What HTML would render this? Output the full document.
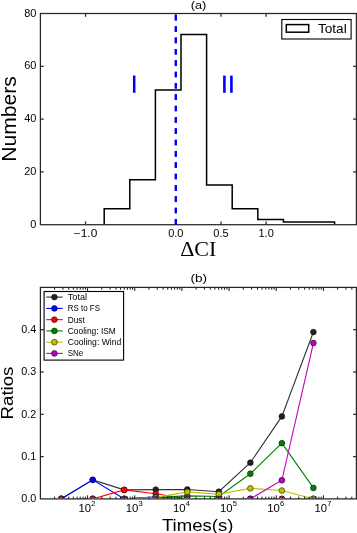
<!DOCTYPE html>
<html><head><meta charset="utf-8"><style>
html,body{margin:0;padding:0;background:#fff;width:357px;height:533px;overflow:hidden;}
svg{display:block;font-family:"Liberation Sans",sans-serif;will-change:transform;}
</style></head><body>
<svg width="357" height="533" viewBox="0 0 357 533"><polyline fill="none" stroke="#000" stroke-width="1.5" stroke-linejoin="miter" points="104.20,224.70 104.20,208.86 129.80,208.86 129.80,179.82 155.40,179.82 155.40,90.06 181.00,90.06 181.00,34.62 206.60,34.62 206.60,185.10 232.20,185.10 232.20,208.86 257.80,208.86 257.80,219.42 283.40,219.42 283.40,222.06 309.00,222.06 309.00,222.06 334.60,222.06 334.60,224.70"/>
<line x1="175.80" y1="224.70" x2="175.80" y2="13.50" stroke="#0000ff" stroke-width="2.1" stroke-dasharray="5.65 5.69"/>
<rect x="40.40" y="13.50" width="316.00" height="211.20" fill="none" stroke="#262626" stroke-width="1.25"/>
<line x1="40.40" y1="171.90" x2="43.70" y2="171.90" stroke="#262626" stroke-width="1.25"/>
<line x1="356.40" y1="171.90" x2="353.10" y2="171.90" stroke="#262626" stroke-width="1.25"/>
<line x1="40.40" y1="119.10" x2="43.70" y2="119.10" stroke="#262626" stroke-width="1.25"/>
<line x1="356.40" y1="119.10" x2="353.10" y2="119.10" stroke="#262626" stroke-width="1.25"/>
<line x1="40.40" y1="66.30" x2="43.70" y2="66.30" stroke="#262626" stroke-width="1.25"/>
<line x1="356.40" y1="66.30" x2="353.10" y2="66.30" stroke="#262626" stroke-width="1.25"/>
<line x1="85.54" y1="224.70" x2="85.54" y2="221.40" stroke="#262626" stroke-width="1.25"/>
<line x1="85.54" y1="13.50" x2="85.54" y2="16.80" stroke="#262626" stroke-width="1.25"/>
<line x1="175.83" y1="224.70" x2="175.83" y2="221.40" stroke="#262626" stroke-width="1.25"/>
<line x1="175.83" y1="13.50" x2="175.83" y2="16.80" stroke="#262626" stroke-width="1.25"/>
<line x1="220.97" y1="224.70" x2="220.97" y2="221.40" stroke="#262626" stroke-width="1.25"/>
<line x1="220.97" y1="13.50" x2="220.97" y2="16.80" stroke="#262626" stroke-width="1.25"/>
<line x1="266.11" y1="224.70" x2="266.11" y2="221.40" stroke="#262626" stroke-width="1.25"/>
<line x1="266.11" y1="13.50" x2="266.11" y2="16.80" stroke="#262626" stroke-width="1.25"/>
<line x1="175.80" y1="224.70" x2="175.80" y2="13.50" stroke="#0000ff" stroke-width="2.1" stroke-dasharray="5.65 5.69"/>
<text x="36.40" y="227.70" font-size="10.00" text-anchor="end" textLength="6.10" lengthAdjust="spacingAndGlyphs" font-family="Liberation Sans, sans-serif" >0</text>
<text x="36.40" y="174.90" font-size="10.00" text-anchor="end" textLength="12.20" lengthAdjust="spacingAndGlyphs" font-family="Liberation Sans, sans-serif" >20</text>
<text x="36.40" y="122.10" font-size="10.00" text-anchor="end" textLength="12.20" lengthAdjust="spacingAndGlyphs" font-family="Liberation Sans, sans-serif" >40</text>
<text x="36.40" y="69.30" font-size="10.00" text-anchor="end" textLength="12.20" lengthAdjust="spacingAndGlyphs" font-family="Liberation Sans, sans-serif" >60</text>
<text x="36.40" y="16.50" font-size="10.00" text-anchor="end" textLength="12.20" lengthAdjust="spacingAndGlyphs" font-family="Liberation Sans, sans-serif" >80</text>
<text x="85.54" y="236.60" font-size="10.00" text-anchor="middle" textLength="23.50" lengthAdjust="spacingAndGlyphs" font-family="Liberation Sans, sans-serif" >−1.0</text>
<text x="175.83" y="236.60" font-size="10.00" text-anchor="middle" textLength="15.30" lengthAdjust="spacingAndGlyphs" font-family="Liberation Sans, sans-serif" >0.0</text>
<text x="220.97" y="236.60" font-size="10.00" text-anchor="middle" textLength="15.30" lengthAdjust="spacingAndGlyphs" font-family="Liberation Sans, sans-serif" >0.5</text>
<text x="266.11" y="236.60" font-size="10.00" text-anchor="middle" textLength="15.30" lengthAdjust="spacingAndGlyphs" font-family="Liberation Sans, sans-serif" >1.0</text>
<text x="198.50" y="8.70" font-size="10.80" text-anchor="middle" textLength="15.60" lengthAdjust="spacingAndGlyphs" font-family="Liberation Sans, sans-serif" >(a)</text>
<text x="198.3" y="256.2" font-size="20.2" text-anchor="middle" textLength="36.2" lengthAdjust="spacingAndGlyphs" font-family="Liberation Serif, serif">ΔCI</text>
<text x="0" y="0" font-size="19.4" text-anchor="middle" textLength="85.6" lengthAdjust="spacingAndGlyphs" font-family="Liberation Sans, sans-serif" transform="translate(16.0,118.9) rotate(-90)">Numbers</text>
<rect x="132.95" y="75.5" width="2.5" height="17.3" fill="#0000ff"/>
<rect x="223.1" y="75.6" width="2.6" height="17.2" fill="#0000ff"/>
<rect x="230.1" y="75.6" width="2.6" height="17.2" fill="#0000ff"/>
<rect x="281.8" y="19.5" width="69.3" height="19.5" fill="#fff" stroke="#000" stroke-width="1.1"/>
<rect x="286.3" y="24.6" width="22.4" height="7.6" fill="none" stroke="#000" stroke-width="1.5"/>
<text x="317.90" y="32.75" font-size="12.40" text-anchor="start" textLength="28.80" lengthAdjust="spacingAndGlyphs" font-family="Liberation Sans, sans-serif" >Total</text>
<defs><clipPath id="c2"><rect x="40.40" y="287.40" width="316.00" height="210.60"/></clipPath></defs>
<g clip-path="url(#c2)">
<polyline fill="none" stroke="#333" stroke-width="1.1" points="61.20,498.90 92.72,479.86 124.25,489.89 155.77,489.59 187.30,489.47 218.82,491.71 250.35,462.69 281.88,416.41 313.40,332.03"/>
<circle cx="61.20" cy="498.90" r="2.9" fill="#222" stroke="#000" stroke-width="0.5"/>
<circle cx="92.72" cy="479.86" r="2.9" fill="#222" stroke="#000" stroke-width="0.5"/>
<circle cx="124.25" cy="489.89" r="2.9" fill="#222" stroke="#000" stroke-width="0.5"/>
<circle cx="155.77" cy="489.59" r="2.9" fill="#222" stroke="#000" stroke-width="0.5"/>
<circle cx="187.30" cy="489.47" r="2.9" fill="#222" stroke="#000" stroke-width="0.5"/>
<circle cx="218.82" cy="491.71" r="2.9" fill="#222" stroke="#000" stroke-width="0.5"/>
<circle cx="250.35" cy="462.69" r="2.9" fill="#222" stroke="#000" stroke-width="0.5"/>
<circle cx="281.88" cy="416.41" r="2.9" fill="#222" stroke="#000" stroke-width="0.5"/>
<circle cx="313.40" cy="332.03" r="2.9" fill="#222" stroke="#000" stroke-width="0.5"/>
<polyline fill="none" stroke="#0000ff" stroke-width="1.1" points="61.20,498.90 92.72,479.86 124.25,498.90 155.77,496.78 187.30,498.90 218.82,498.90 250.35,498.90 281.88,498.90 313.40,498.90"/>
<circle cx="61.20" cy="498.90" r="2.9" fill="#0000ff" stroke="#000" stroke-width="0.5"/>
<circle cx="92.72" cy="479.86" r="2.9" fill="#0000ff" stroke="#000" stroke-width="0.5"/>
<circle cx="124.25" cy="498.90" r="2.9" fill="#0000ff" stroke="#000" stroke-width="0.5"/>
<circle cx="155.77" cy="496.78" r="2.9" fill="#0000ff" stroke="#000" stroke-width="0.5"/>
<circle cx="187.30" cy="498.90" r="2.9" fill="#0000ff" stroke="#000" stroke-width="0.5"/>
<circle cx="218.82" cy="498.90" r="2.9" fill="#0000ff" stroke="#000" stroke-width="0.5"/>
<circle cx="250.35" cy="498.90" r="2.9" fill="#0000ff" stroke="#000" stroke-width="0.5"/>
<circle cx="281.88" cy="498.90" r="2.9" fill="#0000ff" stroke="#000" stroke-width="0.5"/>
<circle cx="313.40" cy="498.90" r="2.9" fill="#0000ff" stroke="#000" stroke-width="0.5"/>
<polyline fill="none" stroke="#ff0000" stroke-width="1.1" points="61.20,498.90 92.72,498.90 124.25,489.89 155.77,493.70 187.30,498.90 218.82,498.90 250.35,498.90 281.88,498.90 313.40,498.90"/>
<circle cx="61.20" cy="498.90" r="2.9" fill="#ff0000" stroke="#000" stroke-width="0.5"/>
<circle cx="92.72" cy="498.90" r="2.9" fill="#ff0000" stroke="#000" stroke-width="0.5"/>
<circle cx="124.25" cy="489.89" r="2.9" fill="#ff0000" stroke="#000" stroke-width="0.5"/>
<circle cx="155.77" cy="493.70" r="2.9" fill="#ff0000" stroke="#000" stroke-width="0.5"/>
<circle cx="187.30" cy="498.90" r="2.9" fill="#ff0000" stroke="#000" stroke-width="0.5"/>
<circle cx="218.82" cy="498.90" r="2.9" fill="#ff0000" stroke="#000" stroke-width="0.5"/>
<circle cx="250.35" cy="498.90" r="2.9" fill="#ff0000" stroke="#000" stroke-width="0.5"/>
<circle cx="281.88" cy="498.90" r="2.9" fill="#ff0000" stroke="#000" stroke-width="0.5"/>
<circle cx="313.40" cy="498.90" r="2.9" fill="#ff0000" stroke="#000" stroke-width="0.5"/>
<polyline fill="none" stroke="#008000" stroke-width="1.1" points="61.20,498.90 92.72,498.90 124.25,498.90 155.77,497.21 187.30,495.85 218.82,496.45 250.35,473.73 281.88,443.19 313.40,487.90"/>
<circle cx="61.20" cy="498.90" r="2.9" fill="#008000" stroke="#000" stroke-width="0.5"/>
<circle cx="92.72" cy="498.90" r="2.9" fill="#008000" stroke="#000" stroke-width="0.5"/>
<circle cx="124.25" cy="498.90" r="2.9" fill="#008000" stroke="#000" stroke-width="0.5"/>
<circle cx="155.77" cy="497.21" r="2.9" fill="#008000" stroke="#000" stroke-width="0.5"/>
<circle cx="187.30" cy="495.85" r="2.9" fill="#008000" stroke="#000" stroke-width="0.5"/>
<circle cx="218.82" cy="496.45" r="2.9" fill="#008000" stroke="#000" stroke-width="0.5"/>
<circle cx="250.35" cy="473.73" r="2.9" fill="#008000" stroke="#000" stroke-width="0.5"/>
<circle cx="281.88" cy="443.19" r="2.9" fill="#008000" stroke="#000" stroke-width="0.5"/>
<circle cx="313.40" cy="487.90" r="2.9" fill="#008000" stroke="#000" stroke-width="0.5"/>
<polyline fill="none" stroke="#bfbf00" stroke-width="1.1" points="61.20,498.90 92.72,498.90 124.25,498.90 155.77,497.63 187.30,491.92 218.82,494.25 250.35,488.37 281.88,490.57 313.40,498.90"/>
<circle cx="61.20" cy="498.90" r="2.9" fill="#bfbf00" stroke="#000" stroke-width="0.5"/>
<circle cx="92.72" cy="498.90" r="2.9" fill="#bfbf00" stroke="#000" stroke-width="0.5"/>
<circle cx="124.25" cy="498.90" r="2.9" fill="#bfbf00" stroke="#000" stroke-width="0.5"/>
<circle cx="155.77" cy="497.63" r="2.9" fill="#bfbf00" stroke="#000" stroke-width="0.5"/>
<circle cx="187.30" cy="491.92" r="2.9" fill="#bfbf00" stroke="#000" stroke-width="0.5"/>
<circle cx="218.82" cy="494.25" r="2.9" fill="#bfbf00" stroke="#000" stroke-width="0.5"/>
<circle cx="250.35" cy="488.37" r="2.9" fill="#bfbf00" stroke="#000" stroke-width="0.5"/>
<circle cx="281.88" cy="490.57" r="2.9" fill="#bfbf00" stroke="#000" stroke-width="0.5"/>
<circle cx="313.40" cy="498.90" r="2.9" fill="#bfbf00" stroke="#000" stroke-width="0.5"/>
<polyline fill="none" stroke="#bf00bf" stroke-width="1.1" points="61.20,498.90 92.72,498.90 124.25,498.90 155.77,498.90 187.30,498.90 218.82,498.90 250.35,498.90 281.88,480.25 313.40,343.02"/>
<circle cx="61.20" cy="498.90" r="2.9" fill="#bf00bf" stroke="#000" stroke-width="0.5"/>
<circle cx="92.72" cy="498.90" r="2.9" fill="#bf00bf" stroke="#000" stroke-width="0.5"/>
<circle cx="124.25" cy="498.90" r="2.9" fill="#bf00bf" stroke="#000" stroke-width="0.5"/>
<circle cx="155.77" cy="498.90" r="2.9" fill="#bf00bf" stroke="#000" stroke-width="0.5"/>
<circle cx="187.30" cy="498.90" r="2.9" fill="#bf00bf" stroke="#000" stroke-width="0.5"/>
<circle cx="218.82" cy="498.90" r="2.9" fill="#bf00bf" stroke="#000" stroke-width="0.5"/>
<circle cx="250.35" cy="498.90" r="2.9" fill="#bf00bf" stroke="#000" stroke-width="0.5"/>
<circle cx="281.88" cy="480.25" r="2.9" fill="#bf00bf" stroke="#000" stroke-width="0.5"/>
<circle cx="313.40" cy="343.02" r="2.9" fill="#bf00bf" stroke="#000" stroke-width="0.5"/>
</g>
<rect x="40.40" y="287.40" width="316.00" height="211.50" fill="none" stroke="#262626" stroke-width="1.25"/>
<line x1="40.40" y1="456.60" x2="43.70" y2="456.60" stroke="#262626" stroke-width="1.25"/>
<line x1="356.40" y1="456.60" x2="353.10" y2="456.60" stroke="#262626" stroke-width="1.25"/>
<line x1="40.40" y1="414.30" x2="43.70" y2="414.30" stroke="#262626" stroke-width="1.25"/>
<line x1="356.40" y1="414.30" x2="353.10" y2="414.30" stroke="#262626" stroke-width="1.25"/>
<line x1="40.40" y1="372.00" x2="43.70" y2="372.00" stroke="#262626" stroke-width="1.25"/>
<line x1="356.40" y1="372.00" x2="353.10" y2="372.00" stroke="#262626" stroke-width="1.25"/>
<line x1="40.40" y1="329.70" x2="43.70" y2="329.70" stroke="#262626" stroke-width="1.25"/>
<line x1="356.40" y1="329.70" x2="353.10" y2="329.70" stroke="#262626" stroke-width="1.25"/>
<line x1="54.60" y1="498.90" x2="54.60" y2="496.60" stroke="#1a1a1a" stroke-width="1.0"/>
<line x1="54.60" y1="287.40" x2="54.60" y2="289.70" stroke="#1a1a1a" stroke-width="1.0"/>
<line x1="62.91" y1="498.90" x2="62.91" y2="496.60" stroke="#1a1a1a" stroke-width="1.0"/>
<line x1="62.91" y1="287.40" x2="62.91" y2="289.70" stroke="#1a1a1a" stroke-width="1.0"/>
<line x1="68.80" y1="498.90" x2="68.80" y2="496.60" stroke="#1a1a1a" stroke-width="1.0"/>
<line x1="68.80" y1="287.40" x2="68.80" y2="289.70" stroke="#1a1a1a" stroke-width="1.0"/>
<line x1="73.37" y1="498.90" x2="73.37" y2="496.60" stroke="#1a1a1a" stroke-width="1.0"/>
<line x1="73.37" y1="287.40" x2="73.37" y2="289.70" stroke="#1a1a1a" stroke-width="1.0"/>
<line x1="77.11" y1="498.90" x2="77.11" y2="496.60" stroke="#1a1a1a" stroke-width="1.0"/>
<line x1="77.11" y1="287.40" x2="77.11" y2="289.70" stroke="#1a1a1a" stroke-width="1.0"/>
<line x1="80.26" y1="498.90" x2="80.26" y2="496.60" stroke="#1a1a1a" stroke-width="1.0"/>
<line x1="80.26" y1="287.40" x2="80.26" y2="289.70" stroke="#1a1a1a" stroke-width="1.0"/>
<line x1="83.00" y1="498.90" x2="83.00" y2="496.60" stroke="#1a1a1a" stroke-width="1.0"/>
<line x1="83.00" y1="287.40" x2="83.00" y2="289.70" stroke="#1a1a1a" stroke-width="1.0"/>
<line x1="85.41" y1="498.90" x2="85.41" y2="496.60" stroke="#1a1a1a" stroke-width="1.0"/>
<line x1="85.41" y1="287.40" x2="85.41" y2="289.70" stroke="#1a1a1a" stroke-width="1.0"/>
<line x1="87.57" y1="498.90" x2="87.57" y2="495.30" stroke="#1a1a1a" stroke-width="1.0"/>
<line x1="87.57" y1="287.40" x2="87.57" y2="291.00" stroke="#1a1a1a" stroke-width="1.0"/>
<line x1="101.77" y1="498.90" x2="101.77" y2="496.60" stroke="#1a1a1a" stroke-width="1.0"/>
<line x1="101.77" y1="287.40" x2="101.77" y2="289.70" stroke="#1a1a1a" stroke-width="1.0"/>
<line x1="110.08" y1="498.90" x2="110.08" y2="496.60" stroke="#1a1a1a" stroke-width="1.0"/>
<line x1="110.08" y1="287.40" x2="110.08" y2="289.70" stroke="#1a1a1a" stroke-width="1.0"/>
<line x1="115.97" y1="498.90" x2="115.97" y2="496.60" stroke="#1a1a1a" stroke-width="1.0"/>
<line x1="115.97" y1="287.40" x2="115.97" y2="289.70" stroke="#1a1a1a" stroke-width="1.0"/>
<line x1="120.54" y1="498.90" x2="120.54" y2="496.60" stroke="#1a1a1a" stroke-width="1.0"/>
<line x1="120.54" y1="287.40" x2="120.54" y2="289.70" stroke="#1a1a1a" stroke-width="1.0"/>
<line x1="124.28" y1="498.90" x2="124.28" y2="496.60" stroke="#1a1a1a" stroke-width="1.0"/>
<line x1="124.28" y1="287.40" x2="124.28" y2="289.70" stroke="#1a1a1a" stroke-width="1.0"/>
<line x1="127.44" y1="498.90" x2="127.44" y2="496.60" stroke="#1a1a1a" stroke-width="1.0"/>
<line x1="127.44" y1="287.40" x2="127.44" y2="289.70" stroke="#1a1a1a" stroke-width="1.0"/>
<line x1="130.17" y1="498.90" x2="130.17" y2="496.60" stroke="#1a1a1a" stroke-width="1.0"/>
<line x1="130.17" y1="287.40" x2="130.17" y2="289.70" stroke="#1a1a1a" stroke-width="1.0"/>
<line x1="132.58" y1="498.90" x2="132.58" y2="496.60" stroke="#1a1a1a" stroke-width="1.0"/>
<line x1="132.58" y1="287.40" x2="132.58" y2="289.70" stroke="#1a1a1a" stroke-width="1.0"/>
<line x1="134.74" y1="498.90" x2="134.74" y2="495.30" stroke="#1a1a1a" stroke-width="1.0"/>
<line x1="134.74" y1="287.40" x2="134.74" y2="291.00" stroke="#1a1a1a" stroke-width="1.0"/>
<line x1="148.94" y1="498.90" x2="148.94" y2="496.60" stroke="#1a1a1a" stroke-width="1.0"/>
<line x1="148.94" y1="287.40" x2="148.94" y2="289.70" stroke="#1a1a1a" stroke-width="1.0"/>
<line x1="157.25" y1="498.90" x2="157.25" y2="496.60" stroke="#1a1a1a" stroke-width="1.0"/>
<line x1="157.25" y1="287.40" x2="157.25" y2="289.70" stroke="#1a1a1a" stroke-width="1.0"/>
<line x1="163.14" y1="498.90" x2="163.14" y2="496.60" stroke="#1a1a1a" stroke-width="1.0"/>
<line x1="163.14" y1="287.40" x2="163.14" y2="289.70" stroke="#1a1a1a" stroke-width="1.0"/>
<line x1="167.71" y1="498.90" x2="167.71" y2="496.60" stroke="#1a1a1a" stroke-width="1.0"/>
<line x1="167.71" y1="287.40" x2="167.71" y2="289.70" stroke="#1a1a1a" stroke-width="1.0"/>
<line x1="171.45" y1="498.90" x2="171.45" y2="496.60" stroke="#1a1a1a" stroke-width="1.0"/>
<line x1="171.45" y1="287.40" x2="171.45" y2="289.70" stroke="#1a1a1a" stroke-width="1.0"/>
<line x1="174.61" y1="498.90" x2="174.61" y2="496.60" stroke="#1a1a1a" stroke-width="1.0"/>
<line x1="174.61" y1="287.40" x2="174.61" y2="289.70" stroke="#1a1a1a" stroke-width="1.0"/>
<line x1="177.34" y1="498.90" x2="177.34" y2="496.60" stroke="#1a1a1a" stroke-width="1.0"/>
<line x1="177.34" y1="287.40" x2="177.34" y2="289.70" stroke="#1a1a1a" stroke-width="1.0"/>
<line x1="179.76" y1="498.90" x2="179.76" y2="496.60" stroke="#1a1a1a" stroke-width="1.0"/>
<line x1="179.76" y1="287.40" x2="179.76" y2="289.70" stroke="#1a1a1a" stroke-width="1.0"/>
<line x1="181.91" y1="498.90" x2="181.91" y2="495.30" stroke="#1a1a1a" stroke-width="1.0"/>
<line x1="181.91" y1="287.40" x2="181.91" y2="291.00" stroke="#1a1a1a" stroke-width="1.0"/>
<line x1="196.11" y1="498.90" x2="196.11" y2="496.60" stroke="#1a1a1a" stroke-width="1.0"/>
<line x1="196.11" y1="287.40" x2="196.11" y2="289.70" stroke="#1a1a1a" stroke-width="1.0"/>
<line x1="204.42" y1="498.90" x2="204.42" y2="496.60" stroke="#1a1a1a" stroke-width="1.0"/>
<line x1="204.42" y1="287.40" x2="204.42" y2="289.70" stroke="#1a1a1a" stroke-width="1.0"/>
<line x1="210.31" y1="498.90" x2="210.31" y2="496.60" stroke="#1a1a1a" stroke-width="1.0"/>
<line x1="210.31" y1="287.40" x2="210.31" y2="289.70" stroke="#1a1a1a" stroke-width="1.0"/>
<line x1="214.89" y1="498.90" x2="214.89" y2="496.60" stroke="#1a1a1a" stroke-width="1.0"/>
<line x1="214.89" y1="287.40" x2="214.89" y2="289.70" stroke="#1a1a1a" stroke-width="1.0"/>
<line x1="218.62" y1="498.90" x2="218.62" y2="496.60" stroke="#1a1a1a" stroke-width="1.0"/>
<line x1="218.62" y1="287.40" x2="218.62" y2="289.70" stroke="#1a1a1a" stroke-width="1.0"/>
<line x1="221.78" y1="498.90" x2="221.78" y2="496.60" stroke="#1a1a1a" stroke-width="1.0"/>
<line x1="221.78" y1="287.40" x2="221.78" y2="289.70" stroke="#1a1a1a" stroke-width="1.0"/>
<line x1="224.51" y1="498.90" x2="224.51" y2="496.60" stroke="#1a1a1a" stroke-width="1.0"/>
<line x1="224.51" y1="287.40" x2="224.51" y2="289.70" stroke="#1a1a1a" stroke-width="1.0"/>
<line x1="226.93" y1="498.90" x2="226.93" y2="496.60" stroke="#1a1a1a" stroke-width="1.0"/>
<line x1="226.93" y1="287.40" x2="226.93" y2="289.70" stroke="#1a1a1a" stroke-width="1.0"/>
<line x1="229.09" y1="498.90" x2="229.09" y2="495.30" stroke="#1a1a1a" stroke-width="1.0"/>
<line x1="229.09" y1="287.40" x2="229.09" y2="291.00" stroke="#1a1a1a" stroke-width="1.0"/>
<line x1="243.29" y1="498.90" x2="243.29" y2="496.60" stroke="#1a1a1a" stroke-width="1.0"/>
<line x1="243.29" y1="287.40" x2="243.29" y2="289.70" stroke="#1a1a1a" stroke-width="1.0"/>
<line x1="251.59" y1="498.90" x2="251.59" y2="496.60" stroke="#1a1a1a" stroke-width="1.0"/>
<line x1="251.59" y1="287.40" x2="251.59" y2="289.70" stroke="#1a1a1a" stroke-width="1.0"/>
<line x1="257.49" y1="498.90" x2="257.49" y2="496.60" stroke="#1a1a1a" stroke-width="1.0"/>
<line x1="257.49" y1="287.40" x2="257.49" y2="289.70" stroke="#1a1a1a" stroke-width="1.0"/>
<line x1="262.06" y1="498.90" x2="262.06" y2="496.60" stroke="#1a1a1a" stroke-width="1.0"/>
<line x1="262.06" y1="287.40" x2="262.06" y2="289.70" stroke="#1a1a1a" stroke-width="1.0"/>
<line x1="265.79" y1="498.90" x2="265.79" y2="496.60" stroke="#1a1a1a" stroke-width="1.0"/>
<line x1="265.79" y1="287.40" x2="265.79" y2="289.70" stroke="#1a1a1a" stroke-width="1.0"/>
<line x1="268.95" y1="498.90" x2="268.95" y2="496.60" stroke="#1a1a1a" stroke-width="1.0"/>
<line x1="268.95" y1="287.40" x2="268.95" y2="289.70" stroke="#1a1a1a" stroke-width="1.0"/>
<line x1="271.69" y1="498.90" x2="271.69" y2="496.60" stroke="#1a1a1a" stroke-width="1.0"/>
<line x1="271.69" y1="287.40" x2="271.69" y2="289.70" stroke="#1a1a1a" stroke-width="1.0"/>
<line x1="274.10" y1="498.90" x2="274.10" y2="496.60" stroke="#1a1a1a" stroke-width="1.0"/>
<line x1="274.10" y1="287.40" x2="274.10" y2="289.70" stroke="#1a1a1a" stroke-width="1.0"/>
<line x1="276.26" y1="498.90" x2="276.26" y2="495.30" stroke="#1a1a1a" stroke-width="1.0"/>
<line x1="276.26" y1="287.40" x2="276.26" y2="291.00" stroke="#1a1a1a" stroke-width="1.0"/>
<line x1="290.46" y1="498.90" x2="290.46" y2="496.60" stroke="#1a1a1a" stroke-width="1.0"/>
<line x1="290.46" y1="287.40" x2="290.46" y2="289.70" stroke="#1a1a1a" stroke-width="1.0"/>
<line x1="298.76" y1="498.90" x2="298.76" y2="496.60" stroke="#1a1a1a" stroke-width="1.0"/>
<line x1="298.76" y1="287.40" x2="298.76" y2="289.70" stroke="#1a1a1a" stroke-width="1.0"/>
<line x1="304.66" y1="498.90" x2="304.66" y2="496.60" stroke="#1a1a1a" stroke-width="1.0"/>
<line x1="304.66" y1="287.40" x2="304.66" y2="289.70" stroke="#1a1a1a" stroke-width="1.0"/>
<line x1="309.23" y1="498.90" x2="309.23" y2="496.60" stroke="#1a1a1a" stroke-width="1.0"/>
<line x1="309.23" y1="287.40" x2="309.23" y2="289.70" stroke="#1a1a1a" stroke-width="1.0"/>
<line x1="312.96" y1="498.90" x2="312.96" y2="496.60" stroke="#1a1a1a" stroke-width="1.0"/>
<line x1="312.96" y1="287.40" x2="312.96" y2="289.70" stroke="#1a1a1a" stroke-width="1.0"/>
<line x1="316.12" y1="498.90" x2="316.12" y2="496.60" stroke="#1a1a1a" stroke-width="1.0"/>
<line x1="316.12" y1="287.40" x2="316.12" y2="289.70" stroke="#1a1a1a" stroke-width="1.0"/>
<line x1="318.86" y1="498.90" x2="318.86" y2="496.60" stroke="#1a1a1a" stroke-width="1.0"/>
<line x1="318.86" y1="287.40" x2="318.86" y2="289.70" stroke="#1a1a1a" stroke-width="1.0"/>
<line x1="321.27" y1="498.90" x2="321.27" y2="496.60" stroke="#1a1a1a" stroke-width="1.0"/>
<line x1="321.27" y1="287.40" x2="321.27" y2="289.70" stroke="#1a1a1a" stroke-width="1.0"/>
<line x1="323.43" y1="498.90" x2="323.43" y2="495.30" stroke="#1a1a1a" stroke-width="1.0"/>
<line x1="323.43" y1="287.40" x2="323.43" y2="291.00" stroke="#1a1a1a" stroke-width="1.0"/>
<line x1="337.63" y1="498.90" x2="337.63" y2="496.60" stroke="#1a1a1a" stroke-width="1.0"/>
<line x1="337.63" y1="287.40" x2="337.63" y2="289.70" stroke="#1a1a1a" stroke-width="1.0"/>
<line x1="345.94" y1="498.90" x2="345.94" y2="496.60" stroke="#1a1a1a" stroke-width="1.0"/>
<line x1="345.94" y1="287.40" x2="345.94" y2="289.70" stroke="#1a1a1a" stroke-width="1.0"/>
<line x1="351.83" y1="498.90" x2="351.83" y2="496.60" stroke="#1a1a1a" stroke-width="1.0"/>
<line x1="351.83" y1="287.40" x2="351.83" y2="289.70" stroke="#1a1a1a" stroke-width="1.0"/>
<text x="36.30" y="502.20" font-size="10.00" text-anchor="end" textLength="15.00" lengthAdjust="spacingAndGlyphs" font-family="Liberation Sans, sans-serif" >0.0</text>
<text x="36.30" y="459.90" font-size="10.00" text-anchor="end" textLength="15.00" lengthAdjust="spacingAndGlyphs" font-family="Liberation Sans, sans-serif" >0.1</text>
<text x="36.30" y="417.60" font-size="10.00" text-anchor="end" textLength="15.00" lengthAdjust="spacingAndGlyphs" font-family="Liberation Sans, sans-serif" >0.2</text>
<text x="36.30" y="375.30" font-size="10.00" text-anchor="end" textLength="15.00" lengthAdjust="spacingAndGlyphs" font-family="Liberation Sans, sans-serif" >0.3</text>
<text x="36.30" y="333.00" font-size="10.00" text-anchor="end" textLength="15.00" lengthAdjust="spacingAndGlyphs" font-family="Liberation Sans, sans-serif" >0.4</text>
<text x="78.57" y="511.60" font-size="10.20" text-anchor="start" textLength="12.60" lengthAdjust="spacingAndGlyphs" font-family="Liberation Sans, sans-serif" >10</text>
<text x="91.37" y="506.30" font-size="7.30" text-anchor="start" textLength="4.20" lengthAdjust="spacingAndGlyphs" font-family="Liberation Sans, sans-serif" >2</text>
<text x="125.74" y="511.60" font-size="10.20" text-anchor="start" textLength="12.60" lengthAdjust="spacingAndGlyphs" font-family="Liberation Sans, sans-serif" >10</text>
<text x="138.54" y="506.30" font-size="7.30" text-anchor="start" textLength="4.20" lengthAdjust="spacingAndGlyphs" font-family="Liberation Sans, sans-serif" >3</text>
<text x="172.91" y="511.60" font-size="10.20" text-anchor="start" textLength="12.60" lengthAdjust="spacingAndGlyphs" font-family="Liberation Sans, sans-serif" >10</text>
<text x="185.71" y="506.30" font-size="7.30" text-anchor="start" textLength="4.20" lengthAdjust="spacingAndGlyphs" font-family="Liberation Sans, sans-serif" >4</text>
<text x="220.09" y="511.60" font-size="10.20" text-anchor="start" textLength="12.60" lengthAdjust="spacingAndGlyphs" font-family="Liberation Sans, sans-serif" >10</text>
<text x="232.89" y="506.30" font-size="7.30" text-anchor="start" textLength="4.20" lengthAdjust="spacingAndGlyphs" font-family="Liberation Sans, sans-serif" >5</text>
<text x="267.26" y="511.60" font-size="10.20" text-anchor="start" textLength="12.60" lengthAdjust="spacingAndGlyphs" font-family="Liberation Sans, sans-serif" >10</text>
<text x="280.06" y="506.30" font-size="7.30" text-anchor="start" textLength="4.20" lengthAdjust="spacingAndGlyphs" font-family="Liberation Sans, sans-serif" >6</text>
<text x="314.43" y="511.60" font-size="10.20" text-anchor="start" textLength="12.60" lengthAdjust="spacingAndGlyphs" font-family="Liberation Sans, sans-serif" >10</text>
<text x="327.23" y="506.30" font-size="7.30" text-anchor="start" textLength="4.20" lengthAdjust="spacingAndGlyphs" font-family="Liberation Sans, sans-serif" >7</text>
<text x="198.70" y="282.20" font-size="10.80" text-anchor="middle" textLength="16.60" lengthAdjust="spacingAndGlyphs" font-family="Liberation Sans, sans-serif" >(b)</text>
<text x="197.70" y="530.50" font-size="17.30" text-anchor="middle" textLength="71.50" lengthAdjust="spacingAndGlyphs" font-family="Liberation Sans, sans-serif" >Times(s)</text>
<text x="0" y="0" font-size="17.3" text-anchor="middle" textLength="52.8" lengthAdjust="spacingAndGlyphs" font-family="Liberation Sans, sans-serif" transform="translate(13.4,393.0) rotate(-90)">Ratios</text>
<rect x="44.1" y="291.5" width="79.5" height="68.6" fill="#fff" stroke="#000" stroke-width="1.1"/>
<line x1="46.3" y1="297.10" x2="62.7" y2="297.10" stroke="#333" stroke-width="1.1"/>
<circle cx="54.4" cy="297.10" r="2.9" fill="#222" stroke="#000" stroke-width="0.5"/>
<text x="67.80" y="300.05" font-size="8.40" text-anchor="start" textLength="19.20" lengthAdjust="spacingAndGlyphs" font-family="Liberation Sans, sans-serif" >Total</text>
<line x1="46.3" y1="308.40" x2="62.7" y2="308.40" stroke="#0000ff" stroke-width="1.1"/>
<circle cx="54.4" cy="308.40" r="2.9" fill="#0000ff" stroke="#000" stroke-width="0.5"/>
<text x="67.80" y="311.35" font-size="8.40" text-anchor="start" textLength="32.20" lengthAdjust="spacingAndGlyphs" font-family="Liberation Sans, sans-serif" >RS to FS</text>
<line x1="46.3" y1="319.65" x2="62.7" y2="319.65" stroke="#ff0000" stroke-width="1.1"/>
<circle cx="54.4" cy="319.65" r="2.9" fill="#ff0000" stroke="#000" stroke-width="0.5"/>
<text x="67.80" y="322.60" font-size="8.40" text-anchor="start" textLength="17.00" lengthAdjust="spacingAndGlyphs" font-family="Liberation Sans, sans-serif" >Dust</text>
<line x1="46.3" y1="330.90" x2="62.7" y2="330.90" stroke="#008000" stroke-width="1.1"/>
<circle cx="54.4" cy="330.90" r="2.9" fill="#008000" stroke="#000" stroke-width="0.5"/>
<text x="67.80" y="333.85" font-size="8.40" text-anchor="start" textLength="48.00" lengthAdjust="spacingAndGlyphs" font-family="Liberation Sans, sans-serif" >Cooling: ISM</text>
<line x1="46.3" y1="342.15" x2="62.7" y2="342.15" stroke="#bfbf00" stroke-width="1.1"/>
<circle cx="54.4" cy="342.15" r="2.9" fill="#bfbf00" stroke="#000" stroke-width="0.5"/>
<text x="67.80" y="345.10" font-size="8.40" text-anchor="start" textLength="53.40" lengthAdjust="spacingAndGlyphs" font-family="Liberation Sans, sans-serif" >Cooling: Wind</text>
<line x1="46.3" y1="353.40" x2="62.7" y2="353.40" stroke="#bf00bf" stroke-width="1.1"/>
<circle cx="54.4" cy="353.40" r="2.9" fill="#bf00bf" stroke="#000" stroke-width="0.5"/>
<text x="67.80" y="356.35" font-size="8.40" text-anchor="start" textLength="15.50" lengthAdjust="spacingAndGlyphs" font-family="Liberation Sans, sans-serif" >SNe</text></svg>
</body></html>
